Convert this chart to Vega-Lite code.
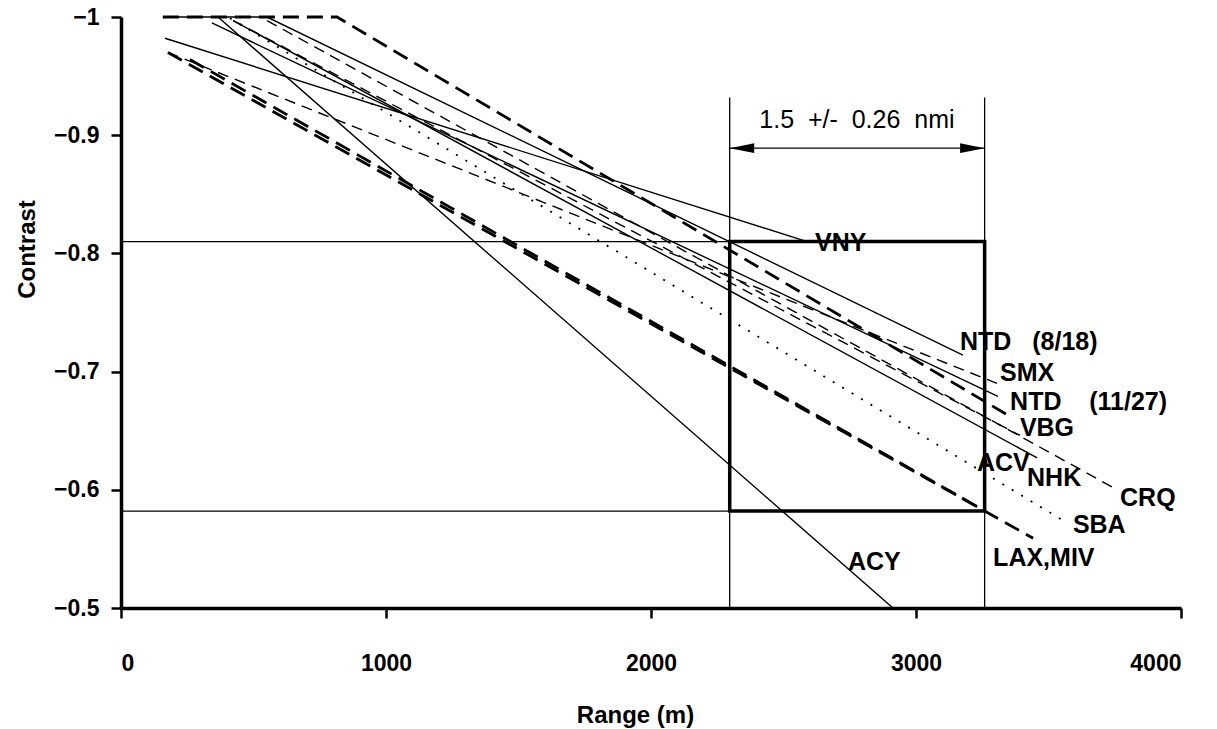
{
  "$schema": "https://vega.github.io/schema/vega-lite/v6.json",
  "autosize": {"type": "none"},
  "padding": {"left": 121, "top": 17, "right": 36, "bottom": 121},
  "width": 1060,
  "height": 591,
  "background": "white",
  "config": {
    "view": {"stroke": null},
    "font": "Liberation Sans",
    "axis": {
      "grid": false,
      "domainColor": "black",
      "domainWidth": 3.5,
      "tickColor": "black",
      "tickWidth": 2.5,
      "tickSize": 10,
      "labelColor": "black",
      "labelFont": "Liberation Sans",
      "labelFontSize": 23,
      "labelFontWeight": "bold",
      "titleColor": "black",
      "titleFont": "Liberation Sans",
      "titleFontSize": 24,
      "titleFontWeight": "bold"
    }
  },
  "datasets": {
    "curves": [
      {"series": "VNY", "range": 166, "contrast": -0.982},
      {"series": "VNY", "range": 2589, "contrast": -0.81},
      {"series": "NTD (8/18)", "range": 158, "contrast": -1},
      {"series": "NTD (8/18)", "range": 551, "contrast": -1},
      {"series": "NTD (8/18)", "range": 3177, "contrast": -0.714},
      {"series": "NTD (11/27)", "range": 158, "contrast": -1},
      {"series": "NTD (11/27)", "range": 815, "contrast": -1},
      {"series": "NTD (11/27)", "range": 3355, "contrast": -0.662},
      {"series": "SMX", "range": 177, "contrast": -0.97},
      {"series": "SMX", "range": 3306, "contrast": -0.69},
      {"series": "LAX", "range": 177, "contrast": -0.97},
      {"series": "LAX", "range": 3442, "contrast": -0.559},
      {"series": "MIV", "range": 260, "contrast": -0.964},
      {"series": "MIV", "range": 3253, "contrast": -0.583},
      {"series": "ACY", "range": 366, "contrast": -1},
      {"series": "ACY", "range": 2913, "contrast": -0.5},
      {"series": "SBA", "range": 411, "contrast": -0.999},
      {"series": "SBA", "range": 3570, "contrast": -0.572},
      {"series": "ACV", "range": 343, "contrast": -0.995},
      {"series": "ACV", "range": 3309, "contrast": -0.679},
      {"series": "VBG", "range": 423, "contrast": -0.997},
      {"series": "VBG", "range": 3392, "contrast": -0.646},
      {"series": "NHK", "range": 423, "contrast": -0.997},
      {"series": "NHK", "range": 3457, "contrast": -0.627},
      {"series": "CRQ", "range": 551, "contrast": -0.997},
      {"series": "CRQ", "range": 3743, "contrast": -0.602}
    ],
    "labels": [
      {"text": "VNY", "range": 2619, "contrast": -0.809},
      {"text": "NTD\u00a0\u00a0\u00a0(8/18)", "range": 3166, "contrast": -0.725},
      {"text": "SMX", "range": 3317, "contrast": -0.699},
      {"text": "NTD\u00a0\u00a0\u00a0\u00a0(11/27)", "range": 3355, "contrast": -0.674},
      {"text": "VBG", "range": 3392, "contrast": -0.652},
      {"text": "ACV", "range": 3230, "contrast": -0.623},
      {"text": "NHK", "range": 3419, "contrast": -0.61},
      {"text": "CRQ", "range": 3770, "contrast": -0.593},
      {"text": "SBA", "range": 3592, "contrast": -0.57},
      {"text": "LAX,MIV", "range": 3291, "contrast": -0.542},
      {"text": "ACY", "range": 2743, "contrast": -0.539}
    ],
    "guides": [
      {"x1": 0, "x2": 3259, "y1": -0.81, "y2": -0.81},
      {"x1": 0, "x2": 3259, "y1": -0.582, "y2": -0.582},
      {"x1": 2297, "x2": 2297, "y1": -0.932, "y2": -0.5},
      {"x1": 3259, "x2": 3259, "y1": -0.932, "y2": -0.5},
      {"x1": 2297, "x2": 3259, "y1": -0.889, "y2": -0.889}
    ],
    "box": [
      {"x1": 2297, "x2": 3259, "y1": -0.81, "y2": -0.582}
    ],
    "heads": [
      {"dir": "left", "range": 2297, "contrast": -0.889},
      {"dir": "right", "range": 3259, "contrast": -0.889},
      {"dir": "up", "range": 3259, "contrast": -0.634}
    ],
    "notes": [
      {"text": "1.5\u00a0\u00a0+/-\u00a0\u00a00.26\u00a0\u00a0nmi", "range": 2777, "contrast": -0.913}
    ]
  },
  "layer": [
    {
      "data": {"name": "guides"},
      "mark": {"type": "rule", "color": "black", "strokeWidth": 1.3},
      "encoding": {
        "x": {"field": "x1", "type": "quantitative", "scale": {"domain": [0, 4000], "nice": false},
          "axis": {"values": [0, 1000, 2000, 3000, 4000], "format": "d", "title": "Range (m)", "labelPadding": 34, "titleX": 514, "titleY": 107, "titleBaseline": "middle", "titleAnchor": "start", "titleAlign": "center"}},
        "x2": {"field": "x2"},
        "y": {"field": "y1", "type": "quantitative", "scale": {"domain": [-1, -0.5], "reverse": true, "nice": false},
          "axis": {"values": [-1, -0.9, -0.8, -0.7, -0.6, -0.5], "labelExpr": "format(datum.value, '.1~f')", "title": "Contrast", "labelPadding": 12, "titleX": -94, "titleY": 232, "titleBaseline": "middle", "titleAnchor": "start", "titleAlign": "center"}},
        "y2": {"field": "y2"}
      }
    },
    {
      "data": {"name": "box"},
      "mark": {"type": "rect", "fill": null, "fillOpacity": 0, "stroke": "black", "strokeWidth": 3.5},
      "encoding": {
        "x": {"field": "x1", "type": "quantitative"},
        "x2": {"field": "x2"},
        "y": {"field": "y1", "type": "quantitative"},
        "y2": {"field": "y2"}
      }
    },
    {
      "data": {"name": "curves"},
      "transform": [{"filter": {"field": "series", "oneOf": ["VNY", "NTD (8/18)", "ACY", "ACV", "NHK"]}}],
      "mark": {"type": "line", "color": "black", "strokeWidth": 1.4},
      "encoding": {
        "x": {"field": "range", "type": "quantitative"},
        "y": {"field": "contrast", "type": "quantitative"},
        "detail": {"field": "series"}
      }
    },
    {
      "data": {"name": "curves"},
      "transform": [{"filter": {"field": "series", "oneOf": ["SMX", "VBG", "CRQ"]}}],
      "mark": {"type": "line", "color": "black", "strokeWidth": 1.4, "strokeDash": [11, 7]},
      "encoding": {
        "x": {"field": "range", "type": "quantitative"},
        "y": {"field": "contrast", "type": "quantitative"},
        "detail": {"field": "series"}
      }
    },
    {
      "data": {"name": "curves"},
      "transform": [{"filter": {"field": "series", "oneOf": ["NTD (11/27)", "LAX", "MIV"]}}],
      "mark": {"type": "line", "color": "black", "strokeWidth": 2.8, "strokeDash": [16, 8]},
      "encoding": {
        "x": {"field": "range", "type": "quantitative"},
        "y": {"field": "contrast", "type": "quantitative"},
        "detail": {"field": "series"}
      }
    },
    {
      "data": {"name": "curves"},
      "transform": [{"filter": {"field": "series", "oneOf": ["SBA"]}}],
      "mark": {"type": "line", "color": "black", "strokeWidth": 1.8, "strokeDash": [2, 9]},
      "encoding": {
        "x": {"field": "range", "type": "quantitative"},
        "y": {"field": "contrast", "type": "quantitative"},
        "detail": {"field": "series"}
      }
    },
    {
      "data": {"name": "heads"},
      "mark": {"type": "point", "filled": true, "color": "black", "opacity": 1, "size": 600, "strokeWidth": 0},
      "encoding": {
        "x": {"field": "range", "type": "quantitative"},
        "y": {"field": "contrast", "type": "quantitative"},
        "shape": {"field": "dir", "type": "nominal", "legend": null,
          "scale": {"domain": ["left", "right", "up"], "range": ["M0,0L2,-0.4L2,0.4Z", "M0,0L-2,-0.4L-2,0.4Z", "M0,0L-0.3,1.4L0.3,1.4Z"]}}
      }
    },
    {
      "data": {"name": "labels"},
      "mark": {"type": "text", "align": "left", "baseline": "middle", "font": "Liberation Sans", "fontWeight": "bold", "fontSize": 25, "color": "black"},
      "encoding": {
        "x": {"field": "range", "type": "quantitative"},
        "y": {"field": "contrast", "type": "quantitative"},
        "text": {"field": "text"}
      }
    },
    {
      "data": {"name": "notes"},
      "mark": {"type": "text", "align": "center", "baseline": "middle", "font": "Liberation Sans", "fontSize": 25, "color": "black"},
      "encoding": {
        "x": {"field": "range", "type": "quantitative"},
        "y": {"field": "contrast", "type": "quantitative"},
        "text": {"field": "text"}
      }
    }
  ]
}
